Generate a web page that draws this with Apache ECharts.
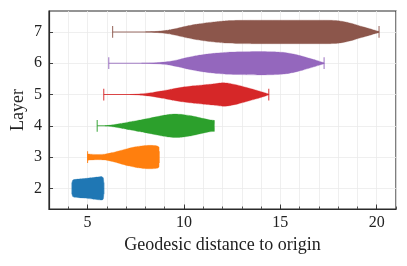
<!DOCTYPE html>
<html><head><meta charset="utf-8">
<script src="https://cdn.jsdelivr.net/npm/echarts@6/dist/echarts.min.js"></script>
<style>html,body{margin:0;padding:0;background:#fff}#c{width:407px;height:266px}</style>
</head><body><div id="c"></div>
<script>
// Layers (y categories as numeric values)
const layers = [2, 3, 4, 5, 6, 7];
const colors = ['#1f77b4', '#ff7f0e', '#2ca02c', '#d62728', '#9467bd', '#8c564b'];
// min / max of each distribution (whisker caps)
const mins = [4.2, 5.0, 5.5, 5.84, 6.1, 6.3];
const maxs = [5.84, 8.71, 11.56, 14.4, 17.27, 20.12];
// violin density profiles: [distance, relative half-width]
const prof2 = [[4.2,0],[4.2,0.55],[4.23,0.7],[4.3,0.75],[4.8,0.83],[5.3,0.92],[5.6,0.98],[5.75,1.0],[5.82,0.9],[5.84,0.6],[5.84,0]];
const prof3 = [[5.0,0],[5.0,0.26],[5.15,0.25],[5.5,0.22],[5.9,0.25],[6.3,0.38],[6.7,0.56],[7.1,0.74],[7.5,0.88],[7.9,0.97],[8.2,1.0],[8.5,0.98],[8.65,0.93],[8.71,0.85],[8.71,0]];
const prof4 = [[5.9,0],[6.3,0.08],[6.8,0.22],[7.3,0.37],[7.8,0.52],[8.3,0.68],[8.8,0.85],[9.2,0.96],[9.5,1.0],[9.9,0.97],[10.4,0.85],[10.9,0.66],[11.3,0.52],[11.56,0.45],[11.56,0]];
const prof5 = [[7.2,0],[7.8,0.06],[8.4,0.18],[8.9,0.32],[9.4,0.48],[9.9,0.62],[10.5,0.74],[11.0,0.82],[11.5,0.9],[12.0,1.0],[12.3,0.97],[12.8,0.8],[13.3,0.58],[13.8,0.35],[14.2,0.15],[14.4,0.03],[14.4,0]];
const prof6 = [[7.8,0],[8.6,0.05],[9.2,0.14],[9.7,0.3],[10.2,0.5],[10.7,0.66],[11.2,0.78],[11.7,0.87],[12.3,0.94],[13.0,0.97],[13.8,1.0],[14.6,0.98],[15.2,0.92],[15.7,0.78],[16.2,0.57],[16.7,0.33],[17.0,0.18],[17.27,0.04],[17.27,0]];
const prof7 = [[8.0,0],[8.6,0.05],[9.2,0.16],[9.7,0.33],[10.2,0.52],[10.7,0.67],[11.2,0.79],[11.7,0.88],[12.2,0.95],[12.8,0.99],[13.5,1.0],[17.5,1.0],[18.0,0.96],[18.4,0.85],[18.8,0.68],[19.2,0.48],[19.6,0.3],[19.9,0.15],[20.12,0.04],[20.12,0]];
const profiles = [prof2, prof3, prof4, prof5, prof6, prof7];
// x tick labels
const xLabels = [5, 10, 15, 20];
const yTicks = [2, 3, 4, 5, 6, 7];

const HALF = 0.375;   // max half-width of violin
const CAP = 0.1875;   // cap half-length
const FONT = '"Liberation Serif", "Times New Roman", serif';

const chart = echarts.init(document.getElementById('c'), null, {renderer: 'canvas'});
const data = layers.map((l, i) => [mins[i], l, maxs[i], i]);

chart.setOption({
  animation: false,
  grid: {left: 49, right: 11, top: 11, bottom: 57, containLabel: false, outerBoundsMode: 'none', show: true, borderColor: '#2b2b2b', borderWidth: 1.2, backgroundColor: 'transparent'},
  xAxis: [{
    type: 'value', min: 3, max: 21, interval: 1, position: 'bottom',
    axisLine: {show: true, onZero: false, lineStyle: {color: '#2b2b2b', width: 1.2}},
    axisTick: {show: true, inside: true, length: 2.5, lineStyle: {color: '#2b2b2b', width: 0.8}},
    axisLabel: {show: false},
    splitLine: {show: true, lineStyle: {color: '#ebebeb', width: 0.8}}
  }, {
    type: 'value', min: 3, max: 21, position: 'bottom',
    name: 'Geodesic distance to origin', nameLocation: 'middle', nameGap: 27, nameMoveOverlap: false,
    nameTextStyle: {fontFamily: FONT, fontSize: 18, color: '#222'},
    axisLine: {show: false, onZero: false},
    axisTick: {show: true, inside: true, length: 4.5, customValues: xLabels, lineStyle: {color: '#2b2b2b', width: 0.9}},
    axisLabel: {show: true, customValues: xLabels, margin: 6, fontFamily: FONT, fontSize: 16, color: '#222'},
    splitLine: {show: false}
  }],
  yAxis: [{
    type: 'value', min: 1.34, max: 7.67,
    name: 'Layer', nameLocation: 'middle', nameGap: 22, nameMoveOverlap: false,
    nameTextStyle: {fontFamily: FONT, fontSize: 18, color: '#222'},
    axisLine: {show: true, onZero: false, lineStyle: {color: '#2b2b2b', width: 1.2}},
    axisTick: {show: true, inside: true, length: 4, customValues: yTicks, lineStyle: {color: '#2b2b2b', width: 0.9}},
    axisLabel: {show: true, customValues: yTicks, margin: 7, fontFamily: FONT, fontSize: 16, color: '#222'},
    splitLine: {show: true, lineStyle: {color: '#ebebeb', width: 0.8}}
  }],
  series: [{
    type: 'custom', coordinateSystem: 'cartesian2d', xAxisIndex: 0, yAxisIndex: 0,
    encode: {x: [0, 2], y: 1},
    data: data,
    renderItem: function (params, api) {
      const i = api.value(3);
      const l = api.value(1);
      const lo = api.value(0), hi = api.value(2);
      const col = colors[i];
      const prof = profiles[i];
      const top = prof.map(p => api.coord([p[0], l + p[1] * HALF]));
      const bot = prof.slice().reverse().map(p => api.coord([p[0], l - p[1] * HALF]));
      const a = api.coord([lo, l]), b = api.coord([hi, l]);
      const c1 = api.coord([lo, l + CAP]), c2 = api.coord([lo, l - CAP]);
      const d1 = api.coord([hi, l + CAP]), d2 = api.coord([hi, l - CAP]);
      const ls = {stroke: col, lineWidth: 1.1, opacity: 0.85};
      return {
        type: 'group',
        children: [
          {type: 'line', shape: {x1: a[0], y1: a[1], x2: b[0], y2: b[1]}, style: ls},
          {type: 'line', shape: {x1: c1[0], y1: c1[1], x2: c2[0], y2: c2[1]}, style: ls},
          {type: 'line', shape: {x1: d1[0], y1: d1[1], x2: d2[0], y2: d2[1]}, style: ls},
          {type: 'polygon', shape: {points: top.concat(bot), smooth: 0.15}, style: {fill: col, stroke: col, lineWidth: 0.3}}
        ]
      };
    }
  }]
});
</script></body></html>
